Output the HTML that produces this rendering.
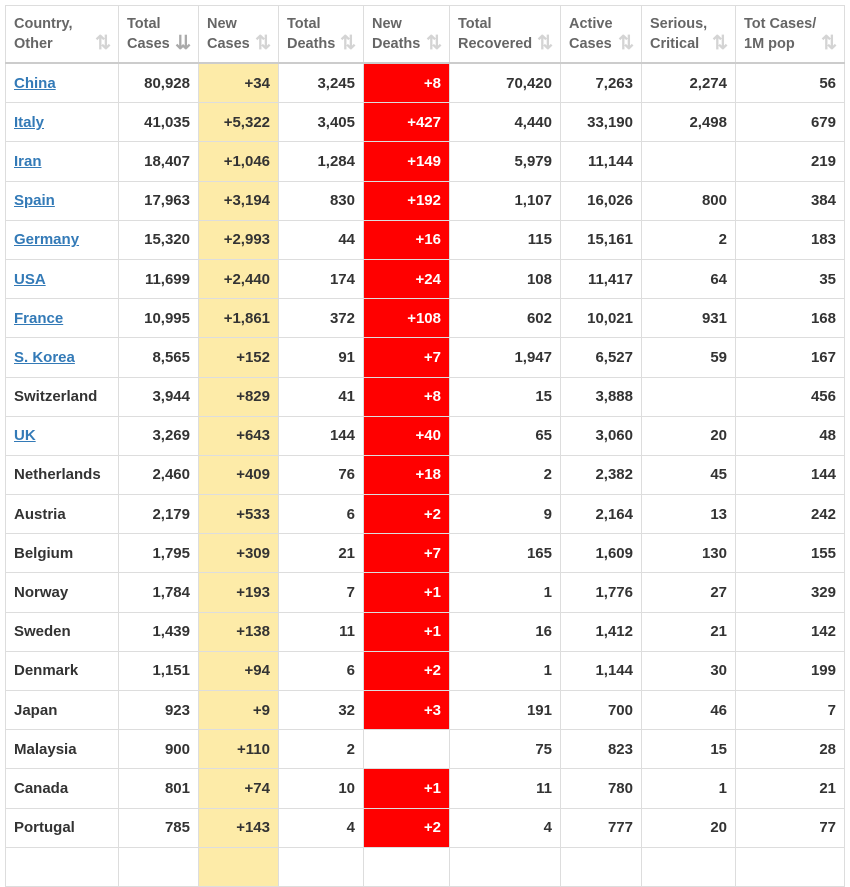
<!DOCTYPE html>
<html><head><meta charset="utf-8"><style>
body{margin:0;background:#fff;width:850px;height:853px;overflow:hidden;font-family:"Liberation Sans",Arial,sans-serif;}
table{position:absolute;left:5px;top:5px;border-collapse:collapse;table-layout:fixed;width:839px;}
td,th{border:1px solid #ddd;padding:0 8px;font-size:15px;font-weight:bold;color:#333;text-align:right;overflow:hidden;white-space:nowrap;}
th{height:56px;text-align:left;color:#666;font-size:14.5px;line-height:20px;vertical-align:middle;position:relative;border-bottom:2px solid #ccc;padding-top:0;}
th span{position:absolute;right:7px;top:28px;color:#d4d4d4;font-size:19px;line-height:20px;}
th span.d{color:#aaa;}
td{height:38.2px;}
td:first-child{text-align:left;}
a{color:#337ab7;text-decoration:underline;}
td:nth-child(3){background:#fdeba8;}
td.r{background:#f00;color:#fff;}
</style></head><body>
<table>
<colgroup><col style="width:113px"><col style="width:80px"><col style="width:80px"><col style="width:85px"><col style="width:86px"><col style="width:111px"><col style="width:81px"><col style="width:94px"><col style="width:109px"></colgroup>
<tr><th>Country,<br>Other<span>⇅</span></th><th>Total<br>Cases<span class="d">⇊</span></th><th>New<br>Cases<span>⇅</span></th><th>Total<br>Deaths<span>⇅</span></th><th>New<br>Deaths<span>⇅</span></th><th>Total<br>Recovered<span>⇅</span></th><th>Active<br>Cases<span>⇅</span></th><th>Serious,<br>Critical<span>⇅</span></th><th>Tot Cases/<br>1M pop<span>⇅</span></th></tr>
<tr><td><a>China</a></td><td>80,928</td><td>+34</td><td>3,245</td><td class="r">+8</td><td>70,420</td><td>7,263</td><td>2,274</td><td>56</td></tr>
<tr><td><a>Italy</a></td><td>41,035</td><td>+5,322</td><td>3,405</td><td class="r">+427</td><td>4,440</td><td>33,190</td><td>2,498</td><td>679</td></tr>
<tr><td><a>Iran</a></td><td>18,407</td><td>+1,046</td><td>1,284</td><td class="r">+149</td><td>5,979</td><td>11,144</td><td></td><td>219</td></tr>
<tr><td><a>Spain</a></td><td>17,963</td><td>+3,194</td><td>830</td><td class="r">+192</td><td>1,107</td><td>16,026</td><td>800</td><td>384</td></tr>
<tr><td><a>Germany</a></td><td>15,320</td><td>+2,993</td><td>44</td><td class="r">+16</td><td>115</td><td>15,161</td><td>2</td><td>183</td></tr>
<tr><td><a>USA</a></td><td>11,699</td><td>+2,440</td><td>174</td><td class="r">+24</td><td>108</td><td>11,417</td><td>64</td><td>35</td></tr>
<tr><td><a>France</a></td><td>10,995</td><td>+1,861</td><td>372</td><td class="r">+108</td><td>602</td><td>10,021</td><td>931</td><td>168</td></tr>
<tr><td><a>S. Korea</a></td><td>8,565</td><td>+152</td><td>91</td><td class="r">+7</td><td>1,947</td><td>6,527</td><td>59</td><td>167</td></tr>
<tr><td>Switzerland</td><td>3,944</td><td>+829</td><td>41</td><td class="r">+8</td><td>15</td><td>3,888</td><td></td><td>456</td></tr>
<tr><td><a>UK</a></td><td>3,269</td><td>+643</td><td>144</td><td class="r">+40</td><td>65</td><td>3,060</td><td>20</td><td>48</td></tr>
<tr><td>Netherlands</td><td>2,460</td><td>+409</td><td>76</td><td class="r">+18</td><td>2</td><td>2,382</td><td>45</td><td>144</td></tr>
<tr><td>Austria</td><td>2,179</td><td>+533</td><td>6</td><td class="r">+2</td><td>9</td><td>2,164</td><td>13</td><td>242</td></tr>
<tr><td>Belgium</td><td>1,795</td><td>+309</td><td>21</td><td class="r">+7</td><td>165</td><td>1,609</td><td>130</td><td>155</td></tr>
<tr><td>Norway</td><td>1,784</td><td>+193</td><td>7</td><td class="r">+1</td><td>1</td><td>1,776</td><td>27</td><td>329</td></tr>
<tr><td>Sweden</td><td>1,439</td><td>+138</td><td>11</td><td class="r">+1</td><td>16</td><td>1,412</td><td>21</td><td>142</td></tr>
<tr><td>Denmark</td><td>1,151</td><td>+94</td><td>6</td><td class="r">+2</td><td>1</td><td>1,144</td><td>30</td><td>199</td></tr>
<tr><td>Japan</td><td>923</td><td>+9</td><td>32</td><td class="r">+3</td><td>191</td><td>700</td><td>46</td><td>7</td></tr>
<tr><td>Malaysia</td><td>900</td><td>+110</td><td>2</td><td></td><td>75</td><td>823</td><td>15</td><td>28</td></tr>
<tr><td>Canada</td><td>801</td><td>+74</td><td>10</td><td class="r">+1</td><td>11</td><td>780</td><td>1</td><td>21</td></tr>
<tr><td>Portugal</td><td>785</td><td>+143</td><td>4</td><td class="r">+2</td><td>4</td><td>777</td><td>20</td><td>77</td></tr>
<tr><td></td><td></td><td></td><td></td><td></td><td></td><td></td><td></td><td></td></tr>
</table>
</body></html>
